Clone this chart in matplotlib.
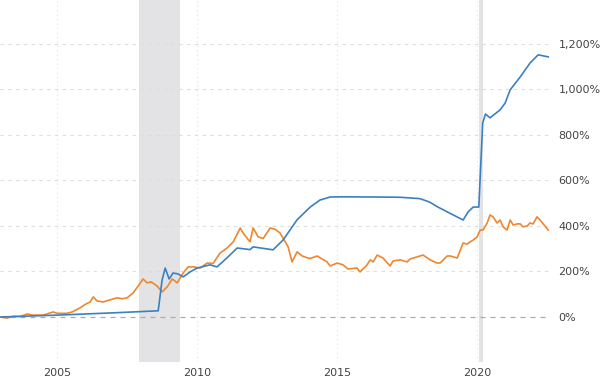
import matplotlib
matplotlib.use("Agg")
import matplotlib.pyplot as plt
from matplotlib.ticker import FuncFormatter

# blue series (year, % change)
blue_years = [2003.0, 2005.0, 2007.0, 2008.61, 2008.75, 2008.86, 2009.0, 2009.14, 2009.32,
              2009.5, 2009.75, 2010.0, 2010.46, 2010.71, 2011.07, 2011.43, 2011.89, 2012.0,
              2012.71, 2013.07, 2013.57, 2014.04, 2014.39, 2014.75, 2015.1, 2016.5, 2017.25,
              2017.96, 2018.3, 2018.6, 2019.5, 2019.68, 2019.86, 2020.06, 2020.2, 2020.3,
              2020.46, 2020.82, 2021.0, 2021.18, 2021.54, 2021.89, 2022.18, 2022.54]
blue_vals = [0, 8, 18, 27, 163, 215, 167, 193, 189,
             176, 198, 215, 229, 220, 260, 303, 296, 308,
             295, 338, 427, 483, 514, 527, 528, 527, 526,
             520, 505, 483, 426, 462, 483, 483, 853, 892,
             875, 910, 940, 998, 1055, 1116, 1152, 1143]

# orange series
orange_years = [2002.96, 2003.21, 2003.43, 2003.68, 2003.93, 2004.14, 2004.5, 2004.86, 2005.0,
                2005.36, 2005.54, 2005.82, 2006.0, 2006.18, 2006.29, 2006.43, 2006.64, 2006.89,
                2007.14, 2007.32, 2007.5, 2007.71, 2007.89, 2008.07, 2008.21, 2008.36, 2008.57,
                2008.75, 2008.93, 2009.11, 2009.29, 2009.5, 2009.68, 2009.86, 2010.11,
                2010.36, 2010.57, 2010.82, 2011.07, 2011.29, 2011.54, 2011.64, 2011.89, 2012.0,
                2012.18, 2012.36, 2012.61, 2012.79, 2012.96, 2013.25, 2013.39, 2013.57, 2013.75,
                2013.93, 2014.04, 2014.29, 2014.39, 2014.64, 2014.75, 2015.0, 2015.21, 2015.39,
                2015.71, 2015.82, 2016.07, 2016.18, 2016.29, 2016.43, 2016.64, 2016.89, 2017.0,
                2017.25, 2017.5, 2017.61, 2017.86, 2018.07, 2018.32, 2018.57, 2018.68, 2018.93,
                2019.04, 2019.29, 2019.5, 2019.64, 2019.75, 2019.86, 2020.0, 2020.11, 2020.21,
                2020.36, 2020.46, 2020.57, 2020.71, 2020.82, 2020.93, 2021.07, 2021.18, 2021.29,
                2021.43, 2021.54, 2021.64, 2021.79, 2021.89, 2022.0, 2022.14, 2022.25, 2022.36,
                2022.54]
orange_vals = [0, -5, 3, 2, 13, 8, 8, 22, 16,
               16, 22, 40, 55, 66, 88, 70, 66, 75,
               84, 80, 84, 105, 135, 167, 150, 154, 136,
               110, 132, 167, 150, 193, 220, 220, 215,
               237, 235, 281, 303, 330, 391, 369, 330, 391,
               352, 345, 391, 385, 369, 308, 242, 286, 268,
               260, 257, 268, 260, 242, 224, 237, 229, 211,
               215, 198, 229, 251, 242, 272, 259, 224, 246,
               251, 242, 255, 264, 272, 251, 237, 237, 268,
               268, 259, 325, 320, 330, 338, 352, 382, 382,
               413, 448, 440, 413, 426, 396, 382, 426, 404,
               409, 409, 396, 400, 413, 409, 440, 426, 409,
               382]

recessions = [(2007.93, 2009.39), (2020.07, 2020.22)]
x_ticks = [2005, 2010, 2015, 2020]
y_ticks = [0, 200, 400, 600, 800, 1000, 1200]

fig = plt.figure(figsize=(6, 3.83), dpi=100)
ax = fig.add_axes([0, 21 / 383, 550 / 600, 362 / 383])

for start, end in recessions:
    ax.axvspan(start, end, color="#e3e3e5", lw=0, zorder=0)

for y in y_ticks:
    if y == 0:
        ax.axhline(y, color="#aaaaaa", lw=0.9, ls=(0, (4, 4)), zorder=1)
    else:
        ax.axhline(y, color="#dddddd", lw=0.8, ls=(0, (3, 4)), zorder=1)
for x in x_ticks:
    ax.axvline(x, color="#e2e2e2", lw=0.8, ls=(0, (1, 3)), zorder=1)

ax.plot(blue_years, blue_vals, color="#3a80c3", lw=1.2, zorder=3)
ax.plot(orange_years, orange_vals, color="#f0862e", lw=1.2, zorder=2)

ax.set_xlim(2002.96, 2002.96 + 550 / 28)
ax.set_ylim(-198, 1393)

for s in ax.spines.values():
    s.set_visible(False)

ax.set_xticks(x_ticks)
ax.set_xticklabels([str(t) for t in x_ticks])
ax.set_yticks(y_ticks)
ax.yaxis.set_major_formatter(FuncFormatter(lambda v, p: f"{int(v):,}%"))
ax.yaxis.tick_right()
ax.tick_params(axis="both", length=0, labelsize=8, labelcolor="#444444")
ax.tick_params(axis="y", pad=6)
ax.tick_params(axis="x", pad=4)
for lbl in ax.get_yticklabels():
    lbl.set_horizontalalignment("left")

fig.savefig("out.png", dpi=100)
